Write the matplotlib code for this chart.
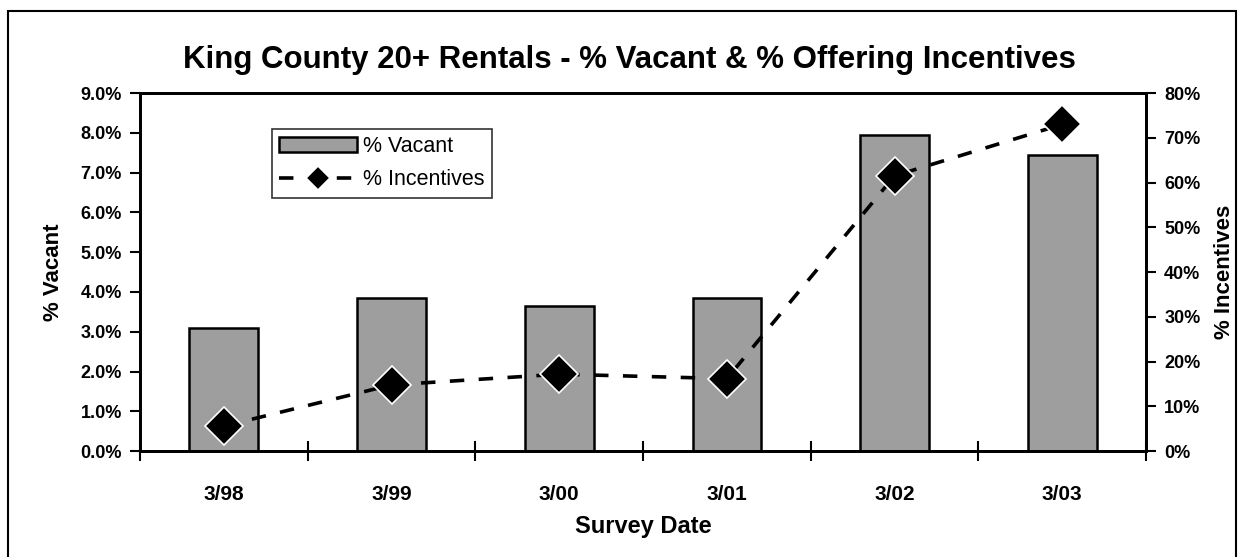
import matplotlib.pyplot as plt
from matplotlib.patches import Rectangle
from matplotlib.ticker import FuncFormatter, MultipleLocator
import numpy as np

dates = ['3/98', '3/99', '3/00', '3/01', '3/02', '3/03']
vacant = [3.1, 3.85, 3.65, 3.85, 7.95, 7.45]
incentives = [5.6, 14.8, 17.2, 16.2, 61.5, 73.0]

plt.rcParams['font.family'] = ['Liberation Sans', 'DejaVu Sans']

fig = plt.figure(figsize=(12.39, 5.57), dpi=100)
ax = fig.add_axes([0.113, 0.190, 0.812, 0.643])
ax2 = ax.twinx()

x = np.arange(len(dates))
bars = ax.bar(x, vacant, width=0.41, color='#9e9e9e', edgecolor='black',
              linewidth=1.8, label='% Vacant', zorder=2)
line, = ax2.plot(x, incentives, color='black', linestyle=(0, (4, 4)), linewidth=2.6,
                 marker='D', markersize=19, markerfacecolor='black',
                 markeredgecolor='white', markeredgewidth=1.2, label='% Incentives', zorder=3)

ax.set_xlim(-0.5, len(dates) - 0.5)
ax.set_ylim(0, 9)
ax2.set_ylim(0, 80)
ax.yaxis.set_major_locator(MultipleLocator(1))
ax2.yaxis.set_major_locator(MultipleLocator(10))
ax.yaxis.set_major_formatter(FuncFormatter(lambda v, p: f'{v:.1f}%'))
ax2.yaxis.set_major_formatter(FuncFormatter(lambda v, p: f'{v:.0f}%'))

ax.set_xticks(x)
ax.set_xticklabels(dates)
ax.set_xticks(np.arange(-0.5, len(dates)), minor=True)
ax.tick_params(axis='x', which='major', length=0, pad=24)
ax.tick_params(axis='x', which='minor', direction='inout', length=14, width=1.5)
ax.tick_params(axis='y', direction='out', length=7, width=1.5, pad=6)
ax2.tick_params(axis='y', direction='out', length=7, width=1.5, pad=6)

for lab in ax.get_xticklabels():
    lab.set_fontweight('bold')
    lab.set_fontsize(15)
for lab in ax.get_yticklabels() + ax2.get_yticklabels():
    lab.set_fontweight('bold')
    lab.set_fontsize(13)

for a in (ax, ax2):
    for s in a.spines.values():
        s.set_linewidth(2)

ax.set_ylabel('% Vacant', fontsize=16, fontweight='bold', labelpad=12)
ax2.set_ylabel('% Incentives', fontsize=16, fontweight='bold', labelpad=10)
ax.set_xlabel('Survey Date', fontsize=17, fontweight='bold', labelpad=8)
fig.text(0.508, 0.893, 'King County 20+ Rentals - % Vacant & % Offering Incentives',
         ha='center', va='center', fontsize=22.5, fontweight='bold')

leg = ax2.legend([bars, line], ['% Vacant', '% Incentives'], loc='upper left',
                 bbox_to_anchor=(0.131, 0.9), frameon=True, fancybox=False,
                 edgecolor='black', handlelength=3.6, borderpad=0.35,
                 labelspacing=0.55, handletextpad=0.3, borderaxespad=0,
                 markerscale=0.65, prop={'size': 15.5})
leg.get_frame().set_linewidth(1.2)

fig.patches.append(Rectangle((8 / 1239, -0.01), 1228 / 1239, 1 - 11 / 557 + 0.01,
                             transform=fig.transFigure, fill=False,
                             edgecolor='black', linewidth=1.5))

fig.savefig('out.png', dpi=100)
